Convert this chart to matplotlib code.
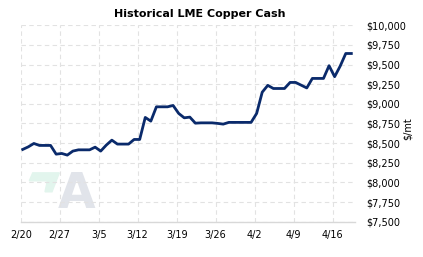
import matplotlib
matplotlib.use("Agg")
import matplotlib.pyplot as plt
from matplotlib.patches import Polygon

# daily values (weekends carried forward), 2/20 .. 4/19
prices = [8420, 8453, 8496, 8471, 8471, 8471, 8360, 8369, 8348, 8399,
          8415, 8415, 8415, 8449, 8399, 8475, 8538, 8488, 8488, 8488,
          8547, 8547, 8827, 8780, 8962, 8962, 8962, 8979, 8878, 8822,
          8831, 8754, 8758, 8758, 8758, 8751, 8742, 8764, 8764, 8764,
          8764, 8764, 8878, 9148, 9235, 9195, 9195, 9195, 9272, 9272,
          9237, 9202, 9323, 9323, 9323, 9485, 9345, 9480, 9640, 9640]
tick_days = [0, 7, 14, 21, 28, 35, 42, 49, 56]
tick_labels = ["2/20", "2/27", "3/5", "3/12", "3/19", "3/26", "4/2", "4/9", "4/16"]
y_ticks = list(range(7500, 10001, 250))

days = [i + 0.36 for i in range(len(prices))]

fig = plt.figure(figsize=(4.23, 2.57), dpi=100)
ax = fig.add_axes([0.049, 0.137, 0.790, 0.765])

# watermark logo
ax.add_patch(Polygon([(0.036, 0.249), (0.1155, 0.249), (0.0936, 0.1525),
                      (0.0727, 0.1525), (0.0796, 0.2084), (0.0257, 0.2084)],
                     closed=True, transform=ax.transAxes, color="#e2f5ed", zorder=0))
ax.text(0.168, 0.068, "A", transform=ax.transAxes, fontsize=35, fontweight="bold",
        color="#e1e4ea", ha="center", va="baseline", zorder=0)

ax.plot(days, prices, color="#0a2a6b", linewidth=2.0, solid_joinstyle="round", zorder=3)

ax.set_xlim(0, 60)
ax.set_ylim(7500, 10000)
ax.set_xticks(tick_days)
ax.set_xticklabels(tick_labels)
ax.set_yticks(y_ticks)
ax.set_yticklabels(["${:,}".format(v) for v in y_ticks])

ax.yaxis.tick_right()
ax.set_ylabel("$/mt", fontsize=7)
ax.yaxis.set_label_coords(1.174, 0.476)
ax.tick_params(axis="both", length=0, labelsize=7)
ax.tick_params(axis="y", pad=8)
ax.tick_params(axis="x", pad=6)

ax.grid(True, color="#e2e2e2", linestyle=(0, (4, 3)), linewidth=0.8)
for s in ["left", "right", "top"]:
    ax.spines[s].set_visible(False)
ax.spines["bottom"].set_color("#d8d8d8")
ax.spines["bottom"].set_linewidth(1.0)

fig.text(0.473, 0.945, "Historical LME Copper Cash", ha="center", va="center",
         fontsize=8, fontweight="bold")

fig.savefig("out.png", dpi=100)
